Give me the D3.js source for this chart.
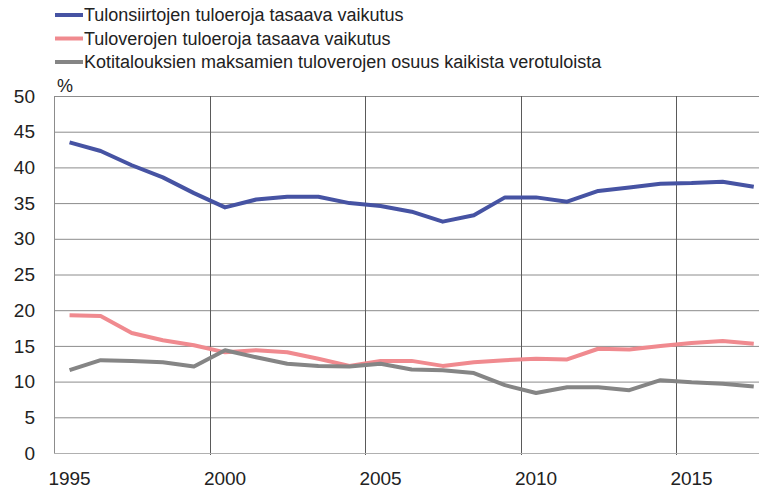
<!DOCTYPE html>
<html>
<head>
<meta charset="utf-8">
<script src="https://cdn.jsdelivr.net/npm/d3@7"></script>
<style>
  body { margin: 0; background: #fff; }
  text { font-family: "Liberation Sans", Arial, sans-serif; fill: #222; }
</style>
</head>
<body>
<div id="chart"></div>
<script>
var years = d3.range(1995, 2018);
var tulonsiirrot = [43.5, 42.3, 40.3, 38.6, 36.4, 34.4, 35.5, 35.9, 35.9, 35.0, 34.6, 33.8,
                    32.4, 33.3, 35.8, 35.8, 35.2, 36.7, 37.2, 37.7, 37.8, 38.0, 37.3];
var tuloverot = [19.3, 19.2, 16.8, 15.8, 15.1, 14.1, 14.4, 14.1, 13.2, 12.2, 12.9, 12.9,
                 12.2, 12.7, 13.0, 13.2, 13.1, 14.6, 14.5, 15.0, 15.4, 15.7, 15.3];
var kotitaloudet = [11.6, 13.0, 12.9, 12.7, 12.1, 14.4, 13.4, 12.5, 12.2, 12.1, 12.5, 11.7,
                    11.6, 11.2, 9.5, 8.4, 9.2, 9.2, 8.8, 10.2, 9.9, 9.7, 9.3];
var seriesNames = ['Tulonsiirtojen tuloeroja tasaava vaikutus',
                   'Tuloverojen tuloeroja tasaava vaikutus',
                   'Kotitalouksien maksamien tuloverojen osuus kaikista verotuloista'];
var seriesColors = ['#4653a3', '#f08a8f', '#858585'];
var yTicks = [0, 5, 10, 15, 20, 25, 30, 35, 40, 45, 50];
var xLabelYears = [1995, 2000, 2005, 2010, 2015];
var gridYears = [2000, 2005, 2010, 2015];

var width = 759,
    height = 492,
    left = 54,
    yearWidth = 31.1;

var svg = d3.select('#chart').append('svg')
    .attr('width', width)
    .attr('height', height);

var x = d3.scaleBand()
    .domain(years)
    .range([left, left + years.length * yearWidth])
    .paddingInner(0);

var y = d3.scaleLinear()
    .domain([0, 50])
    .range([453, 96]);

// horizontal grid
svg.append('g').selectAll('line')
    .data(yTicks.filter(function (d) { return d > 0; }))
    .enter().append('line')
      .attr('x1', left).attr('x2', x.range()[1])
      .attr('y1', function (d) { return y(d) + 0.5; })
      .attr('y2', function (d) { return y(d) + 0.5; })
      .style('stroke', '#8c8c8c')
      .style('stroke-width', 1);

// vertical grid at category boundaries
svg.append('g').selectAll('line')
    .data(gridYears)
    .enter().append('line')
      .attr('x1', function (d) { return Math.round(x(d)) + 0.5; })
      .attr('x2', function (d) { return Math.round(x(d)) + 0.5; })
      .attr('y1', y(50))
      .attr('y2', y(0) + 2)
      .style('stroke', '#5a5a5a')
      .style('stroke-width', 1);

// axes lines
svg.append('line')
    .attr('x1', left + 0.5).attr('x2', left + 0.5)
    .attr('y1', y(50)).attr('y2', y(0))
    .style('stroke', '#8c8c8c');
svg.append('line')
    .attr('x1', left).attr('x2', x.range()[1])
    .attr('y1', y(0) + 0.5).attr('y2', y(0) + 0.5)
    .style('stroke', '#b0b0b0');

// y labels
svg.append('g').selectAll('text')
    .data(yTicks)
    .enter().append('text')
      .attr('x', 35)
      .attr('y', function (d) { return y(d); })
      .attr('dy', '0.35em')
      .attr('text-anchor', 'end')
      .style('font-size', '19px')
      .text(function (d) { return d; });

svg.append('text')
    .attr('x', 57).attr('y', 92)
    .style('font-size', '18px')
    .text('%');

// x labels
svg.append('g').selectAll('text')
    .data(xLabelYears)
    .enter().append('text')
      .attr('x', function (d) { return x(d) + x.bandwidth() / 2; })
      .attr('y', 485)
      .attr('text-anchor', 'middle')
      .style('font-size', '19px')
      .text(function (d) { return d; });

// lines
var line = d3.line()
    .x(function (d, i) { return x(years[i]) + x.bandwidth() / 2; })
    .y(function (d) { return y(d); });

[tulonsiirrot, tuloverot, kotitaloudet].forEach(function (vals, k) {
  svg.append('path')
      .datum(vals)
      .attr('d', line)
      .style('fill', 'none')
      .style('stroke', seriesColors[k])
      .style('stroke-width', 4)
      .style('stroke-linejoin', 'round');
});

// legend
var legend = svg.append('g').selectAll('g')
    .data(seriesNames)
    .enter().append('g')
      .attr('transform', function (d, i) { return 'translate(0,' + (21 + i * 23.5) + ')'; });

legend.append('line')
    .attr('x1', 55).attr('x2', 83)
    .attr('y1', -6).attr('y2', -6)
    .style('stroke', function (d, i) { return seriesColors[i]; })
    .style('stroke-width', 4);

legend.append('text')
    .attr('x', 84)
    .style('font-size', '18px')
    .text(function (d) { return d; });
</script>
</body>
</html>
